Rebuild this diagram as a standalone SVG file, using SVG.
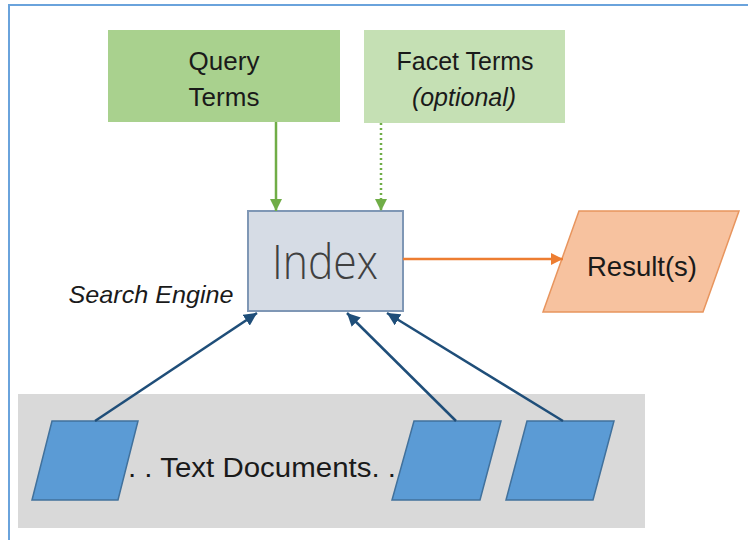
<svg xmlns="http://www.w3.org/2000/svg" width="748" height="540" viewBox="0 0 748 540">
<style>
.lbl{font-family:"Liberation Sans",Arial,sans-serif;fill:#1a1a1a;text-anchor:middle}
.it{font-style:italic}
.conn{fill:none;stroke-width:2.5}
</style>
<defs>
<marker id="ag" viewBox="0 0 10 10" refX="10" refY="5" markerWidth="12" markerHeight="12" markerUnits="userSpaceOnUse" orient="auto"><path d="M0,0 L10,5 L0,10 z" fill="#70ad47"/></marker>
<marker id="ao" viewBox="0 0 10 10" refX="10" refY="5" markerWidth="12" markerHeight="12" markerUnits="userSpaceOnUse" orient="auto"><path d="M0,0 L10,5 L0,10 z" fill="#ed7d31"/></marker>
<marker id="ab" viewBox="0 0 10 10" refX="10" refY="5" markerWidth="13" markerHeight="13" markerUnits="userSpaceOnUse" orient="auto"><path d="M0,0 L10,5 L0,10 z" fill="#1f4e79"/></marker>
</defs>
<rect width="748" height="540" fill="#ffffff"/>
<path d="M9,540 V5 H748" fill="none" stroke="#6aa3dc" stroke-width="2"/>

<g id="text-documents-area">
<rect x="18" y="394" width="627" height="134" fill="#d9d9d9"/>
<text class="lbl" x="262" y="477" font-size="27" textLength="268" lengthAdjust="spacingAndGlyphs">. . Text Documents. .</text>
</g>

<g id="query-terms">
<rect x="108" y="30" width="232" height="92" fill="#a9d18e"/>
<text class="lbl" x="224" y="70" font-size="26">Query</text>
<text class="lbl" x="224" y="106" font-size="26">Terms</text>
</g>

<g id="facet-terms">
<rect x="364" y="30" width="201" height="93" fill="#c5e0b4"/>
<text class="lbl" x="465" y="70" font-size="25">Facet Terms</text>
<text class="lbl it" x="464" y="106" font-size="25">(optional)</text>
</g>

<g id="index">
<rect x="248" y="211" width="155" height="100" fill="#d6dce5" stroke="#7f97b5" stroke-width="2"/>
<text x="325" y="279" font-family="'Open Sans','Liberation Sans',sans-serif" font-weight="300" font-size="48" fill="#404040" text-anchor="middle" textLength="106" lengthAdjust="spacingAndGlyphs">Index</text>
</g>

<g id="search-engine-label">
<text class="lbl it" x="151" y="303" font-size="24" textLength="165" lengthAdjust="spacingAndGlyphs">Search Engine</text>
</g>

<g id="results">
<polygon points="579,211 739,211 703,312 543,312" fill="#f7c29f" stroke="#e8955e" stroke-width="1.5"/>
<text class="lbl" x="642" y="276" font-size="28" textLength="110" lengthAdjust="spacingAndGlyphs">Result(s)</text>
</g>

<g id="doc-1"><polygon points="52,421 138,421 118,500 32,500" fill="#5b9bd5" stroke="#41719c" stroke-width="1.5"/></g>
<g id="doc-2"><polygon points="414,421 501,421 480,500 392,500" fill="#5b9bd5" stroke="#41719c" stroke-width="1.5"/></g>
<g id="doc-3"><polygon points="527,421 614,421 593,500 506,500" fill="#5b9bd5" stroke="#41719c" stroke-width="1.5"/></g>

<g id="connectors">
<line class="conn" x1="276" y1="122" x2="276" y2="211" stroke="#70ad47" marker-end="url(#ag)"/>
<line class="conn" x1="381" y1="123" x2="381" y2="211" stroke="#70ad47" stroke-dasharray="2,3" marker-end="url(#ag)"/>
<line class="conn" x1="403" y1="259" x2="563" y2="259" stroke="#ed7d31" marker-end="url(#ao)"/>
<line class="conn" x1="95" y1="421" x2="257" y2="313" stroke="#1f4e79" stroke-width="3" marker-end="url(#ab)"/>
<line class="conn" x1="456" y1="421" x2="347" y2="313" stroke="#1f4e79" stroke-width="3" marker-end="url(#ab)"/>
<line class="conn" x1="563" y1="421" x2="387" y2="313" stroke="#1f4e79" stroke-width="3" marker-end="url(#ab)"/>
</g>
</svg>
